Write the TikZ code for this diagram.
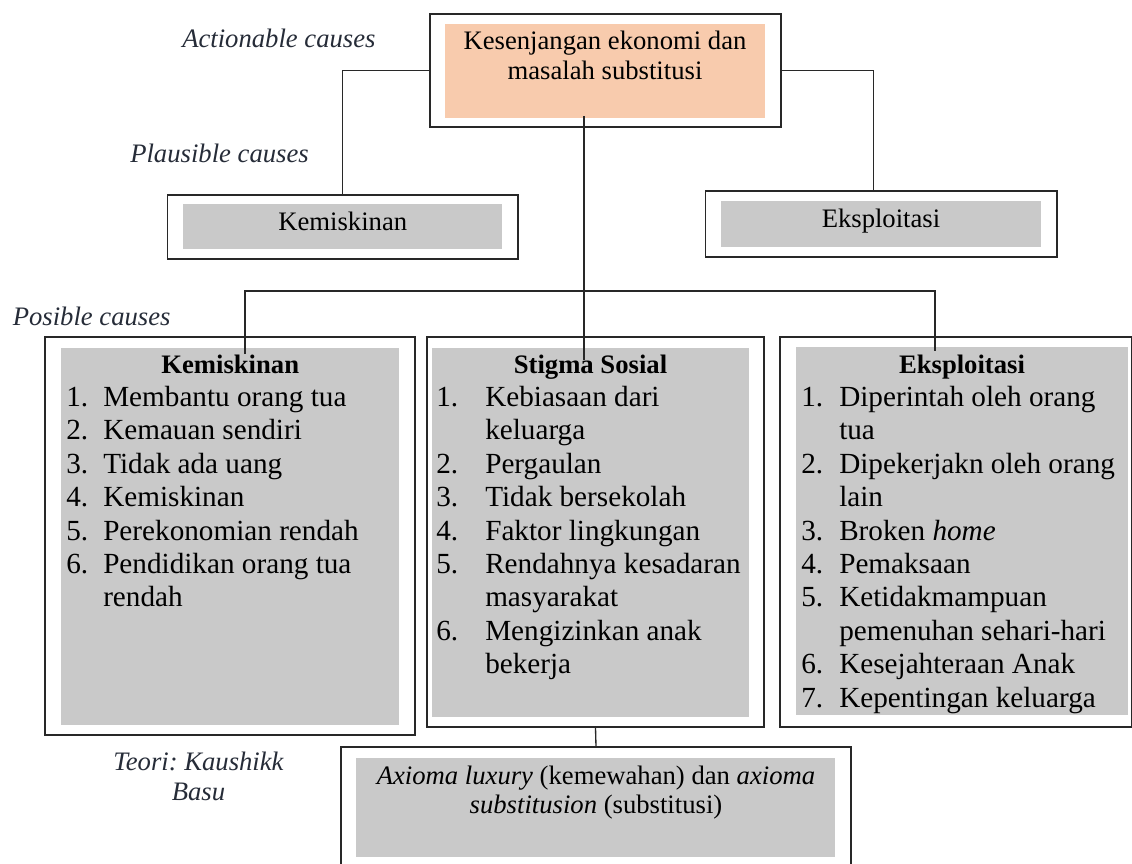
\documentclass[tikz,border=0pt]{standalone}
\usepackage{fontspec}
\setmainfont{Liberation Serif}
\usetikzlibrary{fit}
\frenchspacing
\definecolor{linec}{RGB}{40,40,40}
\definecolor{orangefill}{RGB}{248,203,173}
\definecolor{grayfill}{RGB}{201,201,201}
\definecolor{labelc}{RGB}{38,44,56}
\newlength{\numw}
\newcommand{\lst}[2]{\setlength{\numw}{#1}\vtop{\baselineskip=25.05pt\lineskiplimit=-100pt\lineskip=0pt #2}}
\newcommand{\li}[2]{\hbox{\makebox[\numw][l]{#1}#2}}
\begin{document}
\begin{tikzpicture}[x=0.75pt,y=-0.75pt,
  outerbox/.style={draw=linec,line width=1pt,inner sep=0pt},
  innerfill/.style={fill=#1,inner sep=0pt},
  conn/.style={draw=linec,line width=1pt},
  maintext/.style={font=\fontsize{20pt}{22.5pt}\selectfont,inner sep=0pt,anchor=base},
  listtext/.style={font=\fontsize{21.9pt}{25.05pt}\selectfont,inner sep=0pt,anchor=base west},
  headtext/.style={font=\fontsize{20pt}{22.5pt}\selectfont\bfseries,inner sep=0pt,anchor=base},
  sidelabel/.style={font=\fontsize{20pt}{22.5pt}\selectfont\itshape,text=labelc,inner sep=0pt}]
\useasboundingbox (0,0) rectangle (1132,864);
\fill[white] (0,0) rectangle (1132,864);

% ---- top box
\node[outerbox,fit={(430,14)(781,127)}] (top) {};
\node[innerfill=orangefill,fit={(445,24)(765,118)}] (topin) {};
\node[maintext] (top1) at (605,49) {Kesenjangan ekonomi dan};
\node[maintext] (top2) at (605,79) {masalah substitusi};

% ---- plausible boxes
\node[outerbox,fit={(167.5,195)(518,259)}] (pk) {};
\node[innerfill=grayfill,fit={(183,204)(502,249)}] (pkin) {};
\node[maintext] (pkt) at (342.75,230) {Kemiskinan};

\node[outerbox,fit={(705.6,191)(1057,257)}] (pe) {};
\node[innerfill=grayfill,fit={(721,201)(1041,247)}] (pein) {};
\node[maintext] (pet) at (881,227) {Eksploitasi};

% ---- side labels
\node[sidelabel,anchor=base west] (lab1) at (182,47) {Actionable causes};
\node[sidelabel,anchor=base west] (lab2) at (130,162) {Plausible causes};
\node[sidelabel,anchor=base west] (lab3) at (12.5,325) {Posible causes};
\node[sidelabel,anchor=base] (lab4) at (198.5,770) {Teori: Kaushikk};
\node[sidelabel,anchor=base] (lab5) at (198.5,800) {Basu};

% ---- bottom boxes
\node[outerbox,fit={(45,337)(415,735)}] (bk) {};
\node[innerfill=grayfill,fit={(61.4,348)(399,725)}] (bkin) {};
\node[outerbox,fit={(427,337)(764,727)}] (st) {};
\node[innerfill=grayfill,fit={(432,348)(749,717)}] (stin) {};
\node[outerbox,fit={(780,337)(1131.5,727)}] (be) {};
\node[innerfill=grayfill,fit={(796,347)(1128,715)}] (bein) {};
\node[outerbox,fit={(341,747)(851,872)}] (ax) {};
\node[innerfill=grayfill,fit={(356,757.6)(835,857)}] (axin) {};

% ---- headers
\node[headtext] (bkh) at (230.2,373) {Kemiskinan};
\node[headtext] (sth) at (590.5,373) {Stigma Sosial};
\node[headtext] (beh) at (962,373) {Eksploitasi};

% ---- lists
\node[listtext] (bkl) at (66,406.5) {\lst{27.75pt}{%
  \li{1.}{Membantu orang tua}
  \li{2.}{Kemauan sendiri}
  \li{3.}{Tidak ada uang}
  \li{4.}{Kemiskinan}
  \li{5.}{Perekonomian rendah}
  \li{6.}{Pendidikan orang tua}
  \li{}{rendah}}};
\node[listtext] (stl) at (436,406.5) {\lst{36.75pt}{%
  \li{1.}{Kebiasaan dari}
  \li{}{keluarga}
  \li{2.}{Pergaulan}
  \li{3.}{Tidak bersekolah}
  \li{4.}{Faktor lingkungan}
  \li{5.}{Rendahnya kesadaran}
  \li{}{masyarakat}
  \li{6.}{Mengizinkan anak}
  \li{}{bekerja}}};
\node[listtext] (bel) at (801,406.5) {\lst{28.5pt}{%
  \li{1.}{Diperintah oleh orang}
  \li{}{tua}
  \li{2.}{Dipekerjakn oleh orang}
  \li{}{lain}
  \li{3.}{Broken \textit{home}}
  \li{4.}{Pemaksaan}
  \li{5.}{Ketidakmampuan}
  \li{}{pemenuhan sehari-hari}
  \li{6.}{Kesejahteraan Anak}
  \li{7.}{Kepentingan keluarga}}};

% ---- axioma text
\node[maintext] (ax1) at (596,784) {\textit{Axioma luxury} (kemewahan) dan \textit{axioma}};
\node[maintext] (ax2) at (596,813) {\textit{substitusion} (substitusi)};

% ---- connectors
\draw[conn] (top.west) -| (pk.north);
\draw[conn] (top.east) -| ([xshift=-6pt]pe.north);
\coordinate (cA) at (584,116);
\coordinate (cB) at (584,360);
\draw[conn] (cA) -- (cB);
\coordinate (bL) at (245,354);
\coordinate (busL) at (245,291);
\coordinate (busR) at (935,291);
\coordinate (bR) at (935,351);
\draw[conn] (bL) -- (busL) -- (busR) -- (bR);
\draw[conn] (st.south) -- (ax.north);
\end{tikzpicture}
\end{document}
